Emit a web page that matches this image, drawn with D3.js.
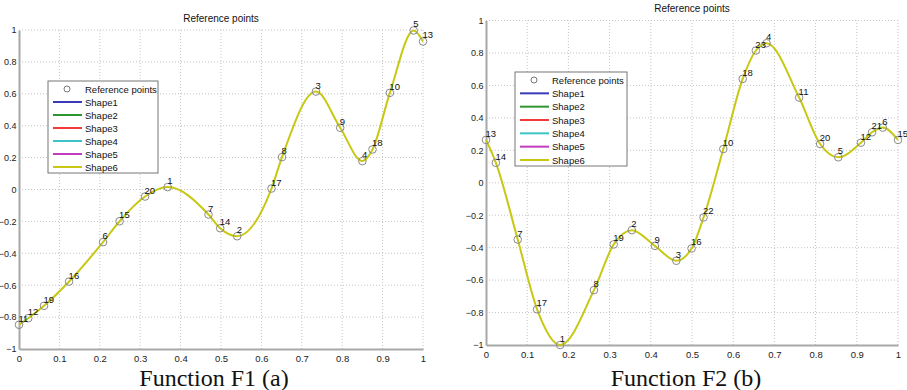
<!DOCTYPE html>
<html>
<head>
<meta charset="utf-8">
<script src="https://cdn.jsdelivr.net/npm/d3@7"></script>
<style>
  body { margin: 0; background: #fff; }
  svg { display: block; }
</style>
</head>
<body>
<svg id="chart" width="907" height="390"></svg>
<script>
// Reference points F1 (id, x, y)
const f1Ids = [11, 12, 19, 16, 6, 15, 20, 1, 7, 14, 2, 17, 8, 3, 9, 4, 18, 10, 5, 13];
const f1X = [0, 0.023, 0.062, 0.124, 0.208, 0.249, 0.312, 0.368, 0.469, 0.498, 0.540, 0.625, 0.651, 0.735, 0.795, 0.850, 0.875, 0.918, 0.977, 1.0];
const f1Y = [-0.848, -0.807, -0.729, -0.577, -0.33, -0.199, -0.044, 0.015, -0.157, -0.243, -0.293, 0.006, 0.203, 0.614, 0.387, 0.178, 0.251, 0.606, 0.997, 0.928];

// Reference points F2
const f2Ids = [13, 14, 7, 17, 1, 8, 19, 2, 9, 3, 16, 22, 10, 18, 23, 4, 11, 20, 5, 12, 21, 6, 15];
const f2X = [0, 0.024, 0.077, 0.124, 0.18, 0.262, 0.31, 0.354, 0.410, 0.462, 0.499, 0.528, 0.576, 0.623, 0.655, 0.681, 0.760, 0.811, 0.855, 0.910, 0.937, 0.963, 1.0];
const f2Y = [0.264, 0.123, -0.35, -0.78, -1.0, -0.662, -0.38, -0.292, -0.389, -0.481, -0.405, -0.214, 0.208, 0.64, 0.815, 0.86, 0.525, 0.239, 0.157, 0.247, 0.311, 0.34, 0.264];

const xTicks = [0, 0.1, 0.2, 0.3, 0.4, 0.5, 0.6, 0.7, 0.8, 0.9, 1];
const yTicks = [-1, -0.8, -0.6, -0.4, -0.2, 0, 0.2, 0.4, 0.6, 0.8, 1];

const legendNames = ["Shape1", "Shape2", "Shape3", "Shape4", "Shape5", "Shape6"];
const legendColors = ["#3a3ab8", "#2e962e", "#f23a3a", "#3cc4c4", "#c23cc2", "#c8c814"];

const font = "'Liberation Sans', Arial, sans-serif";
const svg = d3.select("#chart");

function panel(cfg) {
  const x = d3.scaleLinear().domain([0, 1]).range([cfg.x0, cfg.x1]);
  const y = d3.scaleLinear().domain([-1, 1]).range([cfg.y0, cfg.y1]);
  const g = svg.append("g");

  // grid (dotted)
  g.append("g").selectAll("line").data(xTicks.slice(1)).join("line")
    .attr("x1", d => x(d)).attr("x2", d => x(d))
    .attr("y1", y(-1)).attr("y2", y(1))
    .attr("stroke", "#c4c4c4").attr("stroke-width", 1).attr("stroke-dasharray", "1,2");
  g.append("g").selectAll("line").data(yTicks.slice(1)).join("line")
    .attr("x1", x(0)).attr("x2", x(1))
    .attr("y1", d => y(d)).attr("y2", d => y(d))
    .attr("stroke", "#c4c4c4").attr("stroke-width", 1).attr("stroke-dasharray", "1,2");

  // axes
  const xa = g.append("g").attr("transform", `translate(0,${y(-1)})`)
    .call(d3.axisBottom(x).tickValues(xTicks).tickSize(0).tickPadding(6).tickFormat(d3.format("~g")));
  const ya = g.append("g").attr("transform", `translate(${x(0)},0)`)
    .call(d3.axisLeft(y).tickValues(yTicks).tickSize(0).tickPadding(2.5).tickFormat(d3.format("~g")));
  [xa, ya].forEach(a => {
    a.select(".domain").attr("stroke", "#a8a8a8").attr("stroke-width", 2);
    a.selectAll("text").attr("font-family", font).attr("font-size", 9.5).attr("fill", "#222");
  });
  ya.selectAll("text").attr("font-size", 9);

  // title
  g.append("text").attr("x", (cfg.x0 + cfg.x1) / 2).attr("y", cfg.titleY)
    .attr("text-anchor", "middle").attr("font-family", font)
    .attr("font-size", 10).attr("fill", "#111").text("Reference points");

  const pts = cfg.ids.map((id, i) => ({ id, x: cfg.xs[i], y: cfg.ys[i] }));

  // Shape6 curve through the reference points
  g.append("path").datum(pts)
    .attr("d", d3.line().x(d => x(d.x)).y(d => y(d.y)).curve(d3.curveMonotoneX))
    .attr("fill", "none").attr("stroke", legendColors[5]).attr("stroke-width", 2);

  g.append("g").selectAll("circle").data(pts).join("circle")
    .attr("cx", d => x(d.x)).attr("cy", d => y(d.y)).attr("r", 3.8)
    .attr("fill", "none").attr("stroke", "#8a8a8a").attr("stroke-width", 1);

  g.append("g").selectAll("text").data(pts).join("text")
    .attr("x", d => x(d.x) - 0.5).attr("y", d => y(d.y) - 3)
    .attr("font-family", font).attr("font-size", 9.5)
    .attr("fill", "#111").text(d => d.id);

  // legend
  const lg = g.append("g").attr("transform", `translate(${cfg.lx},${cfg.ly})`);
  lg.append("rect").attr("width", cfg.lw).attr("height", cfg.lh)
    .attr("fill", "#fff").attr("stroke", "#777").attr("stroke-width", 1);
  const rowH = (cfg.lh - 14) / 6;
  lg.append("circle").attr("cx", 19).attr("cy", 8).attr("r", 3)
    .attr("fill", "none").attr("stroke", "#777");
  lg.append("text").attr("x", 37).attr("y", 11.5)
    .attr("font-family", font).attr("font-size", 9.5)
    .attr("fill", "#111").text("Reference points");
  const rows = lg.selectAll("g.row").data(legendNames).join("g").attr("class", "row")
    .attr("transform", (d, i) => `translate(0,${8 + rowH * (i + 1)})`);
  rows.append("line").attr("x1", 5).attr("x2", 34).attr("y1", 0).attr("y2", 0)
    .attr("stroke", (d, i) => legendColors[i]).attr("stroke-width", 2);
  rows.append("text").attr("x", 37).attr("y", 3.5)
    .attr("font-family", font).attr("font-size", 9.5)
    .attr("fill", "#111").text(d => d);

  // caption
  svg.append("text").attr("x", cfg.capX).attr("y", 386).attr("text-anchor", "middle")
    .attr("font-family", "'Liberation Serif', 'Times New Roman', serif").attr("font-size", 24)
    .attr("fill", "#111").text(cfg.caption);
}

panel({ x0: 19, x1: 423, y0: 349, y1: 30, titleY: 22, ids: f1Ids, xs: f1X, ys: f1Y,
  lx: 48, ly: 81, lw: 110, lh: 92, capX: 214, caption: "Function F1 (a)" });
panel({ x0: 486, x1: 898, y0: 345, y1: 20.5, titleY: 12, ids: f2Ids, xs: f2X, ys: f2Y,
  lx: 515, ly: 72, lw: 112, lh: 94, capX: 686, caption: "Function F2 (b)" });
</script>
</body>
</html>
